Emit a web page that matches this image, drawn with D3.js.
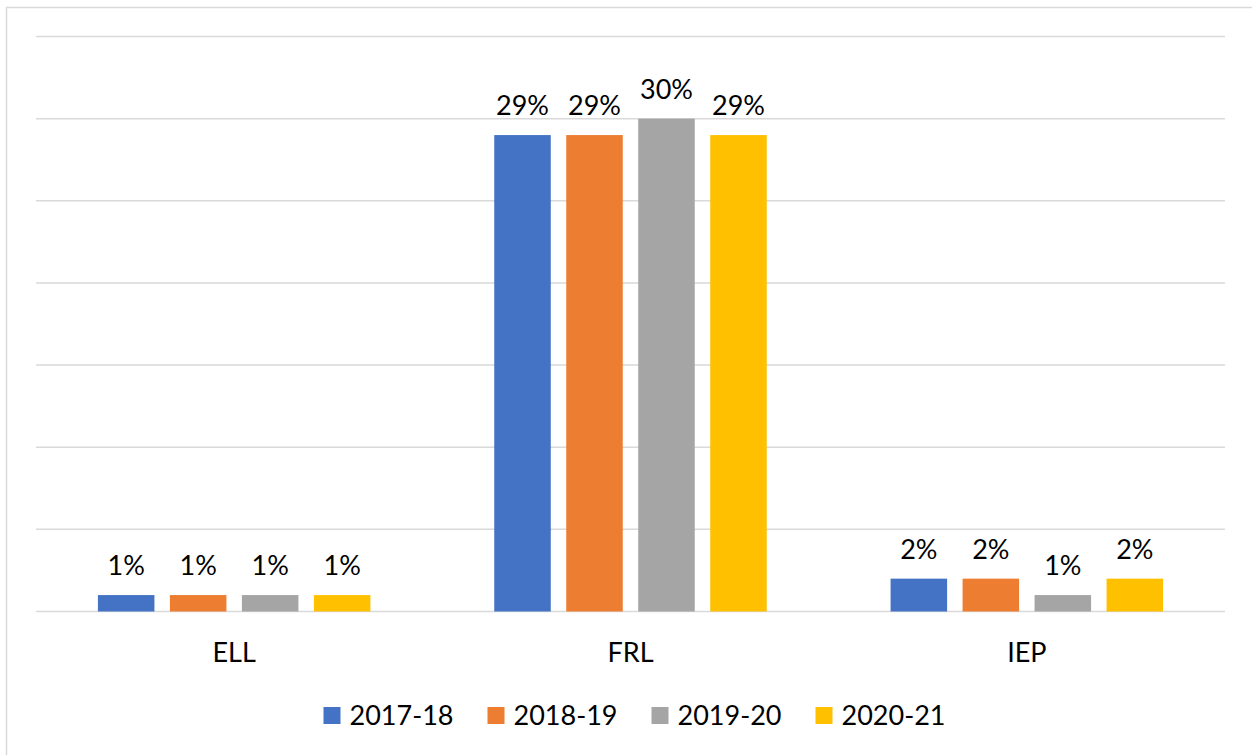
<!DOCTYPE html>
<html>
<head>
<meta charset="utf-8">
<script src="https://cdn.jsdelivr.net/npm/d3@7"></script>
<style>
  html, body { margin: 0; padding: 0; background: #fff; }
  text { font-family: Lato, "Open Sans", sans-serif; fill: #000; }
</style>
</head>
<body>
<script>
const width = 1252;
const height = 755;

// chart data
const categories = ["ELL", "FRL", "IEP"];
const seriesNames = ["2017-18", "2018-19", "2019-20", "2020-21"];
const seriesColors = ["#4472c4", "#ed7d31", "#a5a5a5", "#ffc000"];
const values2017 = [1, 29, 2];
const values2018 = [1, 29, 2];
const values2019 = [1, 30, 1];
const values2020 = [1, 29, 2];
const yTicks = [0, 5, 10, 15, 20, 25, 30, 35];

const allValues = [values2017, values2018, values2019, values2020];

const svg = d3.select("body")
    .append("svg")
    .attr("width", width)
    .attr("height", height);

// outer chart border (runs off right/bottom edge)
svg.append("rect")
    .attr("x", 6.5)
    .attr("y", 7.5)
    .attr("width", width + 20)
    .attr("height", height + 20)
    .attr("fill", "#fff")
    .attr("stroke", "#d9d9d9")
    .attr("stroke-width", 1.5);

const plot = { left: 36, right: 1225, top: 36.5, bottom: 611.5 };

const x0 = d3.scaleBand()
    .domain(categories)
    .range([plot.left, plot.right]);

const x1 = d3.scaleBand()
    .domain(seriesNames)
    .range([0, x0.bandwidth()])
    .paddingInner(0.215)
    .paddingOuter(0.86);

const y = d3.scaleLinear()
    .domain([0, 35])
    .range([plot.bottom, plot.top]);

// gridlines
svg.append("g")
    .selectAll("line")
    .data(yTicks)
    .enter()
    .append("line")
    .attr("x1", plot.left)
    .attr("x2", plot.right)
    .attr("y1", d => y(d))
    .attr("y2", d => y(d))
    .attr("stroke", "#d9d9d9")
    .attr("stroke-width", 1.5);

// bars
const groups = svg.append("g")
    .selectAll("g")
    .data(seriesNames)
    .enter()
    .append("g")
    .attr("fill", (d, i) => seriesColors[i]);

groups.selectAll("rect")
    .data((s, i) => categories.map((c, j) => ({ cat: c, series: s, value: allValues[i][j] })))
    .enter()
    .append("rect")
    .attr("x", d => x0(d.cat) + x1(d.series))
    .attr("y", d => y(d.value))
    .attr("width", x1.bandwidth())
    .attr("height", d => y(0) - y(d.value));

// data labels
groups.selectAll("text")
    .data((s, i) => categories.map((c, j) => ({ cat: c, series: s, value: allValues[i][j] })))
    .enter()
    .append("text")
    .attr("x", d => x0(d.cat) + x1(d.series) + x1.bandwidth() / 2)
    .attr("y", d => y(d.value) - 20)
    .attr("text-anchor", "middle")
    .style("font-size", "27px")
    .text(d => d.value + "%");

// category labels
svg.append("g")
    .selectAll("text")
    .data(categories)
    .enter()
    .append("text")
    .attr("x", d => x0(d) + x0.bandwidth() / 2)
    .attr("y", 662)
    .attr("text-anchor", "middle")
    .style("font-size", "27px")
    .text(d => d);

// legend
const legend = svg.append("g");
const items = legend.selectAll("g")
    .data(seriesNames)
    .enter()
    .append("g");

items.append("rect")
    .attr("x", 0)
    .attr("y", -18)
    .attr("width", 17)
    .attr("height", 17)
    .attr("fill", (d, i) => seriesColors[i]);

items.append("text")
    .attr("x", 26)
    .attr("y", 0)
    .style("font-size", "27px")
    .text(d => d);

let cursor = 0;
items.each(function() {
    const w = d3.select(this).select("text").node().getComputedTextLength();
    d3.select(this).attr("transform", `translate(${cursor}, 725)`);
    cursor += 26 + w + 34;
});
const legendWidth = cursor - 34;
legend.attr("transform", `translate(${634.5 - legendWidth / 2}, 0)`);
</script>
</body>
</html>
